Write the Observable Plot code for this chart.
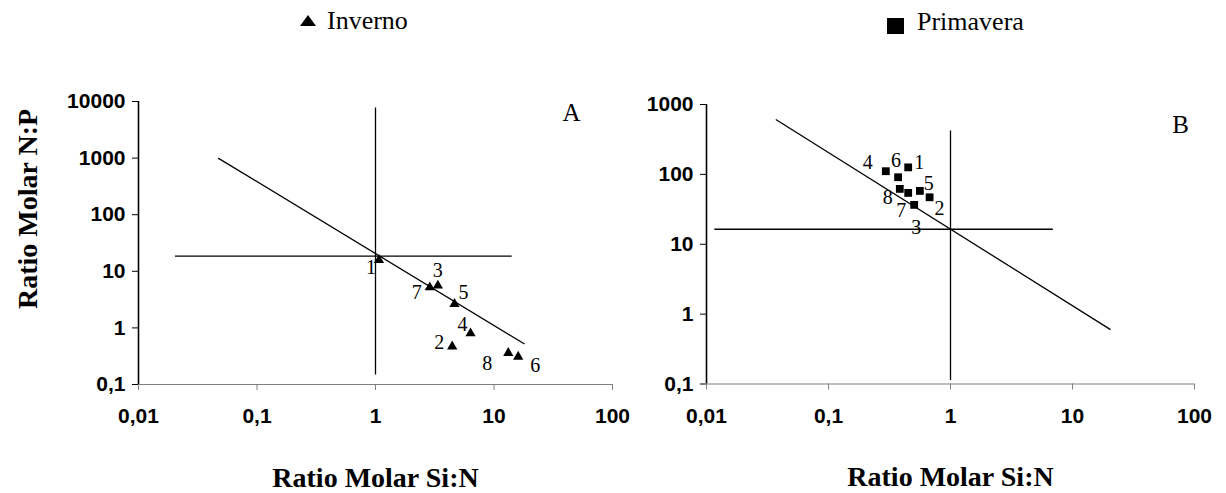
<!DOCTYPE html>
<html>
<head>
<meta charset="utf-8">
<script src="https://cdn.jsdelivr.net/npm/d3@7"></script>
<script src="https://cdn.jsdelivr.net/npm/@observablehq/plot@0.6"></script>
<style>
  body { margin: 0; background: #fff; }
  #wrap { position: relative; width: 1226px; height: 493px; overflow: hidden; background: #fff; }
  #wrap > svg { position: absolute; top: 0; overflow: visible; }
  .leg { position: absolute; font-family: "Liberation Serif", "Times New Roman", serif; font-size: 26px; line-height: 26px; color: #000; white-space: nowrap; }
  .legicon { position: absolute; }
</style>
</head>
<body>
<div id="wrap"></div>
<script>
// ---------- data ----------
const samples = ["1", "2", "3", "4", "5", "6", "7", "8"];
// Inverno (panel A)
const winterSiN = [1.07, 4.44, 3.36, 6.34, 4.64, 16.0, 2.87, 13.2];
const winterNP  = [15.8, 0.47, 5.6, 0.80, 2.65, 0.31, 5.2, 0.36];
// Primavera (panel B)
const springSiN = [0.45, 0.674, 0.504, 0.295, 0.561, 0.372, 0.45, 0.384];
const springNP  = [126, 47, 36.6, 111, 58, 91, 54.3, 62];

const seriesNames = ["Inverno", "Primavera"];
const panelNames = ["A", "B"];
const xTitle = "Ratio Molar Si:N";
const yTitle = "Ratio Molar N:P";

const xTicks  = [0.01, 0.1, 1, 10, 100];
const yTicksA = [0.1, 1, 10, 100, 1000, 10000];
const yTicksB = [0.1, 1, 10, 100, 1000];

// guide lines (vertical, horizontal, diagonal)
const guideA_x1 = [1, 0.0203, 0.047];
const guideA_y1 = [0.15, 18.5, 1000];
const guideA_x2 = [1, 14.1, 18.1];
const guideA_y2 = [7800, 18.5, 0.52];

const guideB_x1 = [1, 0.0116, 0.037];
const guideB_y1 = [0.114, 16.4, 610];
const guideB_x2 = [1, 6.9, 20.5];
const guideB_y2 = [425, 16.4, 0.6];

// ---------- layout (pixel offsets of point labels) ----------
const labelOffA = [[-8, 8], [-13, -4], [0, -15], [-8, -9], [9, -11], [17, 9], [-13, 5], [-21, 11]];
const labelOffB = [[11, -5], [10, 11], [2, 23], [-18, -9], [9, -7], [-2, -17], [-7, 18], [-12, 9]];

const fmt = d => String(d).replace(".", ",");
const serif = "'Liberation Serif', 'Times New Roman', serif";
const sans = "'Liberation Sans', Arial, sans-serif";

function panel({xs, ys, yDomain, yTicks, guides, symbol, r, offs, width, marginLeft, marginRight, marginTop, marginBottom, panelName, panelDx, panelDy, withYTitle}) {
  const idx = xs.map((_, i) => i);
  const gidx = guides.x1.map((_, i) => i);
  const marks = [
    Plot.ruleY([0.1], {stroke: "#808080", strokeWidth: 1}),
    Plot.ruleX([0.01], {stroke: "#000", strokeWidth: 1.6}),
    Plot.axisX(xTicks, {tickSize: 6, tickPadding: 18, tickFormat: fmt, label: null, stroke: "#808080", fill: "#000"}),
    Plot.axisY(yTicks, {tickSize: 6, tickPadding: 7, tickFormat: fmt, label: null, stroke: "#000", fill: "#000"}),
    Plot.link(gidx, {
      x1: i => guides.x1[i], y1: i => guides.y1[i],
      x2: i => guides.x2[i], y2: i => guides.y2[i],
      stroke: "#000", strokeWidth: 1.3
    }),
    Plot.dot(idx, {x: i => xs[i], y: i => ys[i], symbol, r, fill: "#000", stroke: "none"}),
    ...idx.map(i => Plot.text([i], {
      x: j => xs[j], y: j => ys[j], text: j => samples[j],
      dx: offs[i][0], dy: offs[i][1],
      fontFamily: serif, fontWeight: "normal", fontSize: 20, fill: "#000",
      textAnchor: "middle", lineAnchor: "middle"
    })),
    Plot.text([xTitle], {
      frameAnchor: "bottom", dy: 102, lineAnchor: "bottom", textAnchor: "middle",
      fontFamily: serif, fontWeight: "bold", fontSize: 28, fill: "#000"
    }),
    Plot.text([panelName], {
      frameAnchor: "top-right", dx: panelDx, dy: panelDy, textAnchor: "middle", lineAnchor: "middle",
      fontFamily: serif, fontWeight: "normal", fontSize: 25, fill: "#000"
    })
  ];
  if (withYTitle) {
    marks.push(Plot.text([yTitle], {
      frameAnchor: "left", rotate: -90, dx: -110, dy: -34, textAnchor: "middle", lineAnchor: "middle",
      fontFamily: serif, fontWeight: "bold", fontSize: 28, fill: "#000"
    }));
  }
  return Plot.plot({
    width, height: 493,
    marginLeft, marginRight, marginTop, marginBottom,
    x: {type: "log", domain: [0.01, 100]},
    y: {type: "log", domain: yDomain},
    style: {fontFamily: sans, fontSize: "21px", fontWeight: "bold", background: "transparent", color: "#000", overflow: "visible"},
    marks
  });
}

const wrap = document.getElementById("wrap");

const svgA = panel({
  xs: winterSiN, ys: winterNP, yDomain: [0.1, 10000], yTicks: yTicksA,
  guides: {x1: guideA_x1, y1: guideA_y1, x2: guideA_x2, y2: guideA_y2},
  symbol: "triangle", r: 3.8, offs: labelOffA,
  width: 630, marginLeft: 138, marginRight: 18, marginTop: 101, marginBottom: 109,
  panelName: panelNames[0], panelDx: -41, panelDy: 11, withYTitle: true
});
svgA.style.left = "0px";
wrap.appendChild(svgA);

const svgB = panel({
  xs: springSiN, ys: springNP, yDomain: [0.1, 1000], yTicks: yTicksB,
  guides: {x1: guideB_x1, y1: guideB_y1, x2: guideB_x2, y2: guideB_y2},
  symbol: "square", r: 4.4, offs: labelOffB,
  width: 596, marginLeft: 76, marginRight: 32, marginTop: 104, marginBottom: 109.5,
  panelName: panelNames[1], panelDx: -14, panelDy: 20, withYTitle: false
});
svgB.style.left = "630px";
wrap.appendChild(svgB);

// ---------- legends (above the charts) ----------
function addLegend(name, iconSvg, iconLeft, iconTop, textLeft, textTop) {
  const ic = document.createElement("div");
  ic.className = "legicon";
  ic.style.left = iconLeft + "px";
  ic.style.top = iconTop + "px";
  ic.innerHTML = iconSvg;
  wrap.appendChild(ic);
  const t = document.createElement("div");
  t.className = "leg";
  t.style.left = textLeft + "px";
  t.style.top = textTop + "px";
  t.textContent = name;
  wrap.appendChild(t);
}
addLegend(seriesNames[0],
  '<svg width="16" height="12" style="display:block"><polygon points="8,0 16,11 0,11" fill="#000"/></svg>',
  300, 15, 327, 8);
addLegend(seriesNames[1],
  '<svg width="17" height="16" style="display:block"><rect x="0" y="0" width="17" height="16" fill="#000"/></svg>',
  887, 18, 917, 9);
</script>
</body>
</html>
